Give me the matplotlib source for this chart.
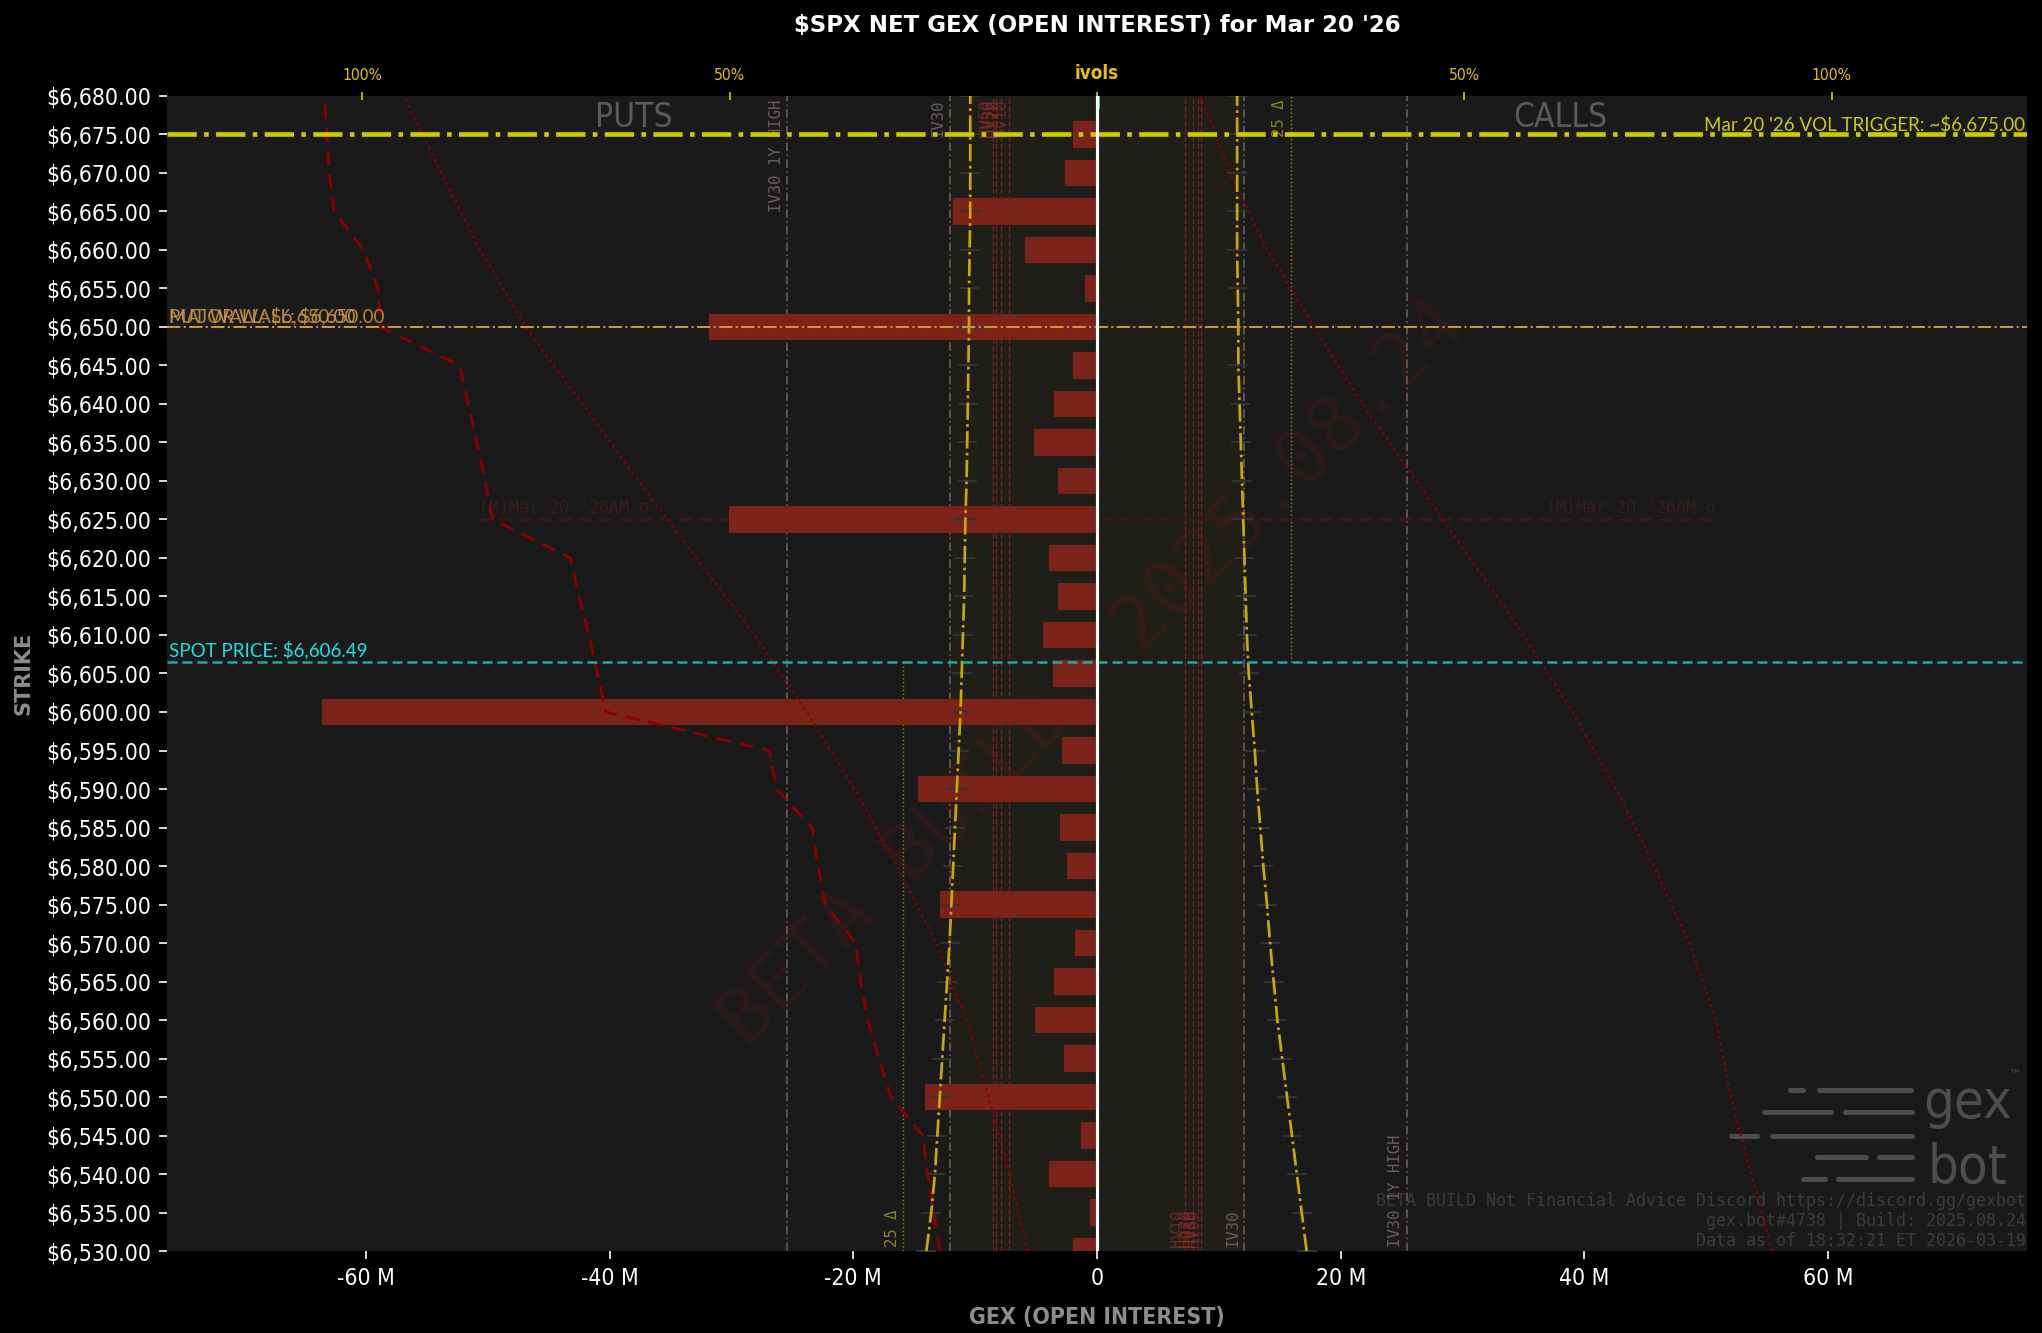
import matplotlib.pyplot as plt
from matplotlib import font_manager
import matplotlib.transforms as mtransforms
import numpy as np

# ---- fonts ----
_fonts = font_manager.fontManager.ttflist
_names = {f.name for f in _fonts}
if any(f.name == 'DejaVu Sans' and f.stretch == 'condensed' for f in _fonts):
    NARROW = dict(family='DejaVu Sans', stretch='condensed')
elif 'Liberation Sans Narrow' in _names:
    NARROW = dict(family='Liberation Sans Narrow')
else:
    NARROW = dict(family='DejaVu Sans')
MONO = 'DejaVu Sans Mono'
LABEL_FONT = 'Lato' if 'Lato' in _names else 'DejaVu Sans'

# ---- data (GEX in millions) ----
strikes = [6530, 6535, 6540, 6545, 6550, 6555, 6560, 6565, 6570, 6575,
           6580, 6585, 6590, 6595, 6600, 6605, 6610, 6615, 6620, 6625,
           6630, 6635, 6640, 6645, 6650, 6655, 6660, 6665, 6670, 6675, 6680]
net_gex = [-2.0, -0.6, -3.9, -1.3, -14.1, -2.7, -5.1, -3.5, -1.8, -12.9,
           -2.5, -3.0, -14.7, -2.9, -63.6, -3.6, -4.4, -3.2, -3.9, -30.2,
           -3.2, -5.2, -3.5, -2.0, -31.8, -1.0, -5.9, -11.8, -2.6, -2.0, 0.25]

# implied vol smile, drawn on the gex scale
ivol_puts = [-14.0, -13.6, -13.3, -13.1, -12.9, -12.7, -12.5, -12.3, -12.1, -11.95,
             -11.8, -11.65, -11.5, -11.35, -11.2, -11.1, -11.0, -10.9, -10.85, -10.8,
             -10.7, -10.65, -10.6, -10.55, -10.5, -10.5, -10.45, -10.4, -10.4, -10.4, -10.4]
ivol_calls = [17.2, 16.8, 16.4, 16.0, 15.6, 15.2, 14.8, 14.5, 14.2, 13.95,
              13.65, 13.4, 13.15, 12.95, 12.7, 12.45, 12.3, 12.2, 12.1, 12.0,
              11.9, 11.8, 11.7, 11.6, 11.6, 11.55, 11.5, 11.5, 11.5, 11.5, 11.5]
# cumulative put profile
cum_puts = [-12.9, -13.4, -13.9, -14.3, -16.9, -17.9, -18.8, -19.4, -19.8, -22.3,
            -22.9, -23.4, -26.3, -26.9, -40.3, -41.0, -41.7, -42.5, -43.2, -49.6,
            -50.2, -50.9, -51.6, -52.3, -58.8, -59.0, -60.2, -62.6, -63.0, -63.2, -63.4]

oi_strikes = [6530, 6540, 6550, 6560, 6570, 6580, 6590, 6600,
              6610, 6620, 6630, 6640, 6650, 6660, 6670, 6680]
oi_puts = [-5.7, -7.2, -8.9, -10.7, -13.2, -16.4, -19.9, -23.8,
           -28.1, -32.9, -37.6, -42.2, -46.9, -50.6, -53.8, -56.9]
oi_calls = [55.4, 53.7, 52.0, 50.8, 48.6, 45.7, 42.6, 39.0,
            35.0, 30.6, 26.2, 21.8, 17.8, 14.0, 10.9, 8.5]

spot = 6606.49
vol_trigger = 6675
wall = 6650
sigma_strike = 6625
sigma_span = (-50.7, 50.8)

iv30 = 12.1
iv30_high = 25.4
delta25 = 15.9
hv_levels = [7.25, 7.9, 8.25, 8.55]
hv_names = ['HV10', 'HV20', 'HV30', 'HV60']

ivol_ticks = [-100, -50, 0, 50, 100]
ivol_labels = ['100%', '50%', 'ivols', '50%', '100%']
IVOL_SCALE = 0.603  # M per percent

# ---- figure ----
fig = plt.figure(figsize=(2043 / 150, 1333 / 150), dpi=150, facecolor='black')
ax = fig.add_axes([0.0817, 0.0615, 0.9105, 0.8665])
ax.set_facecolor('#1a1a1a')

lim = 1.2 * max(abs(v) for v in net_gex)
ax.set_xlim(-lim, lim)
ax.set_ylim(strikes[0], strikes[-1])

ax.axvspan(-iv30, iv30, color='#201e18', zorder=0)

colors = ['#3ecf5a' if v > 0 else '#7b2219' for v in net_gex]
ax.barh(strikes, net_gex, height=3.5, color=colors, zorder=2)

# verticals
for s in (-1, 1):
    ax.axvline(s * iv30_high, color='#6e5c5c', lw=0.8, ls=(0, (5, 2, 1, 2)), zorder=1)
    ax.axvline(s * iv30, color='#6e5c5c', lw=0.8, ls=(0, (5, 2, 1, 2)), zorder=1)
    for h in hv_levels:
        ax.axvline(s * h, color='#b02828', lw=0.6, ls=(0, (4, 2)), alpha=0.6, zorder=1)
ax.vlines(-delta25, strikes[0], spot, color='#8f8a10', lw=0.7, ls=':', zorder=1)
ax.vlines(delta25, spot, strikes[-1], color='#8f8a10', lw=0.7, ls=':', zorder=1)

vt = dict(family=MONO, fontsize=7.5, rotation=90, ha='right')
ax.text(-iv30_high - 0.3, strikes[-1] - 0.5, 'IV30 1Y HIGH', color='#6e5c5c', va='top', **vt)
ax.text(iv30_high - 0.3, strikes[0] + 0.5, 'IV30 1Y HIGH', color='#6e5c5c', va='bottom', **vt)
ax.text(-iv30 - 0.3, strikes[-1] - 0.5, 'IV30', color='#6e5c5c', va='top', **vt)
ax.text(iv30 - 0.3, strikes[0] + 0.5, 'IV30', color='#6e5c5c', va='bottom', **vt)
ax.text(-delta25 - 0.3, strikes[0] + 0.5, '25 Δ', color='#8a8420', va='bottom', **vt)
ax.text(delta25 - 0.3, strikes[-1] - 0.5, '25 Δ', color='#8a8420', va='top', **vt)
for h, n in zip(hv_levels, hv_names):
    ax.text(-h, strikes[-1] - 0.5, n, color='#a03030', alpha=0.55, va='top', **vt)
    ax.text(h, strikes[0] + 0.5, n, color='#a03030', alpha=0.55, va='bottom', **vt)

# curves
ax.plot(ivol_puts, strikes, ls='none', marker='_', ms=10, mew=1.0, color='#333333', zorder=3)
ax.plot(ivol_calls, strikes, ls='none', marker='_', ms=10, mew=1.0, color='#333333', zorder=3)
ax.plot(ivol_puts, strikes, color='#c9a800', lw=1.3, ls='-.', zorder=4)
ax.plot(ivol_calls, strikes, color='#c9a800', lw=1.3, ls='-.', zorder=4)
ax.plot(cum_puts, strikes, color='#8b0000', lw=1.4, ls=(0, (5, 3)), zorder=3)
ax.plot(oi_puts, oi_strikes, color='#8b0000', lw=1.2, ls=':', zorder=3)
ax.plot(oi_calls, oi_strikes, color='#8b0000', lw=1.2, ls=':', zorder=3)

# horizontals
ax.hlines(sigma_strike, *sigma_span, color='#3e1818', lw=1.2, ls=(0, (5, 3)), zorder=1)
ax.text(sigma_span[0], sigma_strike + 0.3, "(M)Mar 20 '26AM σ", family=MONO, fontsize=8,
        color='#3a1e1e', ha='left', va='bottom', zorder=1)
ax.text(sigma_span[1], sigma_strike + 0.3, "(M)Mar 20 '26AM σ", family=MONO, fontsize=8,
        color='#3a1e1e', ha='right', va='bottom', zorder=1)

ax.axhline(vol_trigger, color='#cccc00', lw=2.2, ls='-.', zorder=5)
ax.axhline(wall, color='#c8963c', lw=1.0, ls='-.', zorder=5)
ax.axhline(spot, color='#1fa8a8', lw=1.2, ls=(0, (4, 2)), zorder=5)
ax.axvline(0, color='white', lw=1.5, zorder=6)

trans = mtransforms.blended_transform_factory(ax.transAxes, ax.transData)
ax.text(0.999, vol_trigger + 0.2, f"Mar 20 '26 VOL TRIGGER: ~\\${vol_trigger:,.2f}", transform=trans,
        color='#cccc00', fontsize=9, family=LABEL_FONT, ha='right', va='bottom', zorder=7)
ax.text(0.001, wall + 0.2, f"MAJOR WALL: \\${wall:,.2f}", transform=trans,
        color='#c8963c', fontsize=9, family=LABEL_FONT, ha='left', va='bottom', alpha=0.9, zorder=7)
ax.text(0.001, wall + 0.2, f"PUT WALL: \\${wall:,.2f}", transform=trans,
        color='#c8963c', fontsize=9, family=LABEL_FONT, ha='left', va='bottom', alpha=0.9, zorder=7)
ax.text(0.001, spot + 0.3, f"SPOT PRICE: \\${spot:,.2f}", transform=trans,
        color='#19e3e3', fontsize=9, family=LABEL_FONT, ha='left', va='bottom', zorder=7)

ax.text(-38, vol_trigger + 0.1, 'PUTS', color='#5a5a5a', fontsize=16, ha='center', va='bottom', zorder=4, **NARROW)
ax.text(38, vol_trigger + 0.1, 'CALLS', color='#5a5a5a', fontsize=16, ha='center', va='bottom', zorder=4, **NARROW)

# watermark
ax.text(-0.3, 6605, 'BETA BUILD. 2025.08.24', family=MONO, fontsize=37, color='#8b1a1a',
        alpha=0.16, rotation=45, ha='center', va='center', zorder=1)

# logo + footer
ax.text(0.968, 0.128, 'gex', transform=ax.transAxes, color='#4d4d4d', fontsize=26,
        ha='center', va='center', **NARROW)
ax.text(0.968, 0.072, 'bot', transform=ax.transAxes, color='#4d4d4d', fontsize=26,
        ha='center', va='center', **NARROW)
ax.text(0.993, 0.152, '™', transform=ax.transAxes, color='#4d4d4d', fontsize=6,
        ha='center', va='center')
logo_rows = [(0.139, [(1790, 1803), (1819, 1911)]),
             (0.120, [(1764, 1831), (1845, 1912)]),
             (0.100, [(1731, 1757), (1772, 1912)]),
             (0.081, [(1817, 1866), (1879, 1912)]),
             (0.062, [(1803, 1825), (1838, 1912)])]
for yy, segs in logo_rows:
    for x0, x1 in segs:
        ax.plot([(x0 - 167) / 1860, (x1 - 167) / 1860], [yy, yy], transform=ax.transAxes,
                color='#4d4d4d', lw=2.4, solid_capstyle='round', zorder=1)
footer = ['BETA BUILD Not Financial Advice Discord https://discord.gg/gexbot',
          'gex.bot#4738 | Build: 2025.08.24',
          'Data as of 18:32:21 ET 2026-03-19']
for i, line in enumerate(footer):
    ax.text(0.9995, 0.0435 - i * 0.0175, line, transform=ax.transAxes, family=MONO, fontsize=8,
            color='#3c3c3c', ha='right', va='center', zorder=1)

# axes styling
ax.set_yticks(strikes)
ax.set_yticklabels([f"\\${s:,.2f}" for s in strikes])
xt = [-60, -40, -20, 0, 20, 40, 60]
ax.set_xticks(xt)
ax.set_xticklabels([f"{v} M" if v else "0" for v in xt])
ax.tick_params(colors='white', labelsize=11, length=4)
for lab in ax.get_xticklabels() + ax.get_yticklabels():
    lab.set(**NARROW)
for sp in ax.spines.values():
    sp.set_visible(False)

ax.set_xlabel('GEX (OPEN INTEREST)', color='#8c8c8c', fontsize=11, fontweight='bold', labelpad=8, **NARROW)
ax.set_ylabel('STRIKE', color='#8c8c8c', fontsize=10, fontweight='bold', labelpad=6)

sec = ax.secondary_xaxis('top', functions=(lambda x: x / IVOL_SCALE, lambda p: p * IVOL_SCALE))
sec.set_xticks(ivol_ticks, ivol_labels)
sec.tick_params(colors='#e6c200', labelsize=7.5, length=4, direction='inout', pad=4)
for lab in sec.get_xticklabels():
    lab.set(**NARROW)
sec.get_xticklabels()[2].set(fontweight='bold', fontsize=9, family='DejaVu Sans')
for sp in sec.spines.values():
    sp.set_visible(False)

fig.text(0.537, 0.981, "\\$SPX NET GEX (OPEN INTEREST) for Mar 20 '26", color='white',
         fontsize=11, fontweight='bold', ha='center', va='center')

fig.savefig('out.png', facecolor='black')
